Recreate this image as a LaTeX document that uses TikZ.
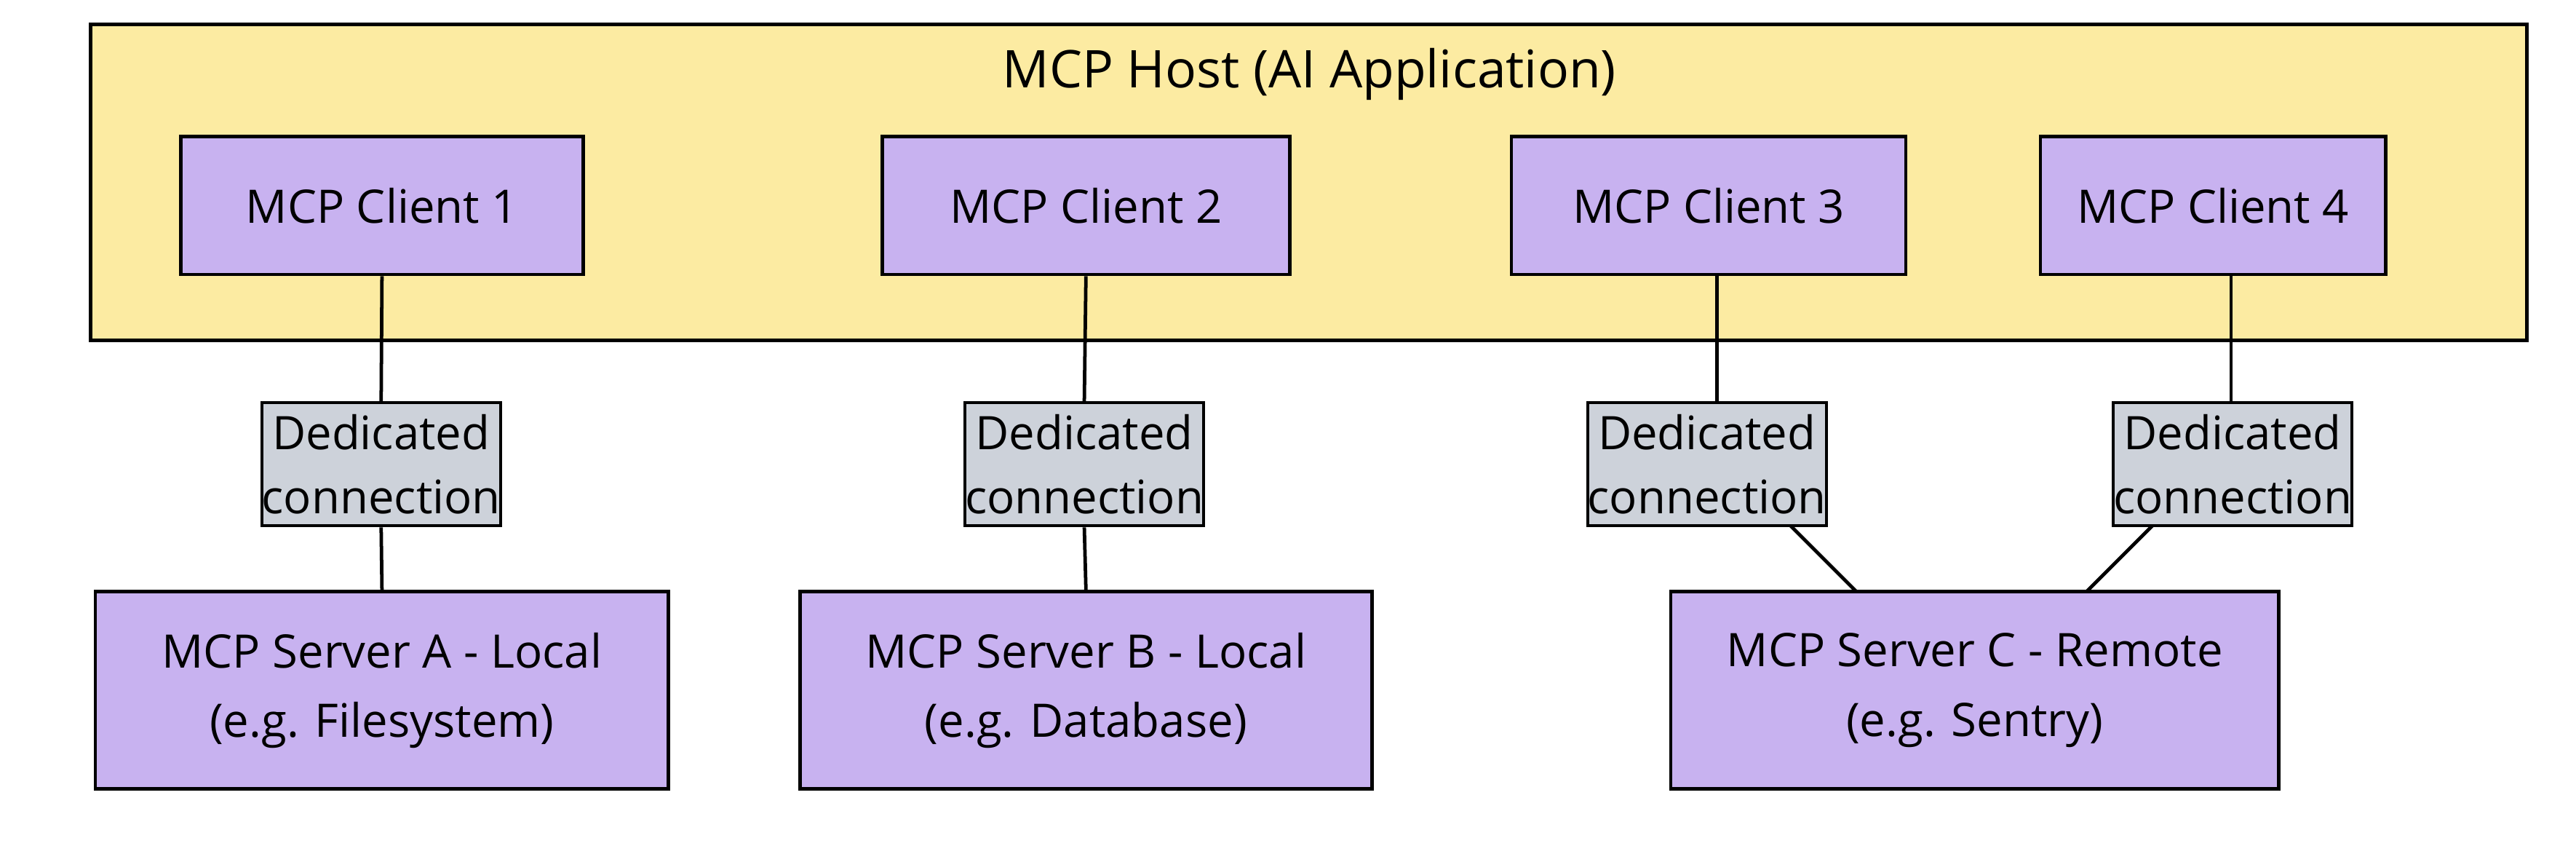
\documentclass[tikz,border=0pt]{standalone}
\usepackage{fontspec}
\setmainfont{Open Sans}
\begin{document}
\begin{tikzpicture}[x=0.02cm,y=-0.02cm,
 box/.style={draw=black,line width=1.2pt,align=center,inner sep=0pt},
 sz/.style 2 args={minimum width=#1*0.02cm,minimum height=#2*0.02cm},
 client/.style={box,fill=cl,font=\fontsize{16}{20}\selectfont},
 conn/.style={box,fill=cn,line width=1pt,font=\fontsize{16}{22}\selectfont},
 server/.style={box,fill=cl,font=\fontsize{16}{24}\selectfont},
 wire/.style={line width=1.2pt}]
\definecolor{hy}{HTML}{FCEBA2}
\definecolor{cl}{HTML}{C8B2F0}
\definecolor{cn}{HTML}{CDD2DA}
\useasboundingbox (0,0) rectangle (1568,524);
\node[box,fill=hy,sz={1483}{192}] (host) at (796.5,111) {};
\node[font=\fontsize{18}{22}\selectfont] (title) at (797,45) {MCP Host (AI Application)};
\node[client,sz={245}{84}] (c1) at (232.5,125) {MCP Client 1};
\node[client,sz={248}{84}] (c2) at (661,125) {MCP Client 2};
\node[client,sz={240}{84}] (c3) at (1040,125) {MCP Client 3};
\node[client,sz={210}{84}] (c4) at (1347,125) {MCP Client 4};
\node[conn,sz={132}{75}] (d1) at (232,282.5) {Dedicated\\connection};
\node[conn,sz={130}{75}] (d2) at (660,282.5) {Dedicated\\connection};
\node[conn,sz={132}{75}] (d3) at (1039,282.5) {Dedicated\\connection};
\node[conn,sz={128}{75}] (d4) at (1359,282.5) {Dedicated\\connection};
\node[server,sz={349}{120}] (sa) at (232.5,420) {MCP Server A - Local\\(e.g. Filesystem)};
\node[server,sz={348}{120}] (sb) at (661,420) {MCP Server B - Local\\(e.g. Database)};
\node[server,sz={370}{120}] (sc) at (1202,420) {MCP Server C - Remote\\(e.g. Sentry)};
\draw[wire] (c1.south) -- (d1.north);
\draw[wire] (d1.south) -- (sa.north);
\draw[wire] (c2.south) -- (d2.north);
\draw[wire] (d2.south) -- (sb.north);
\draw[wire] (c3.south -| 1045,0) -- (d3.north -| 1045,0);
\draw[wire] (c4.south -| 1358,0) -- (d4.north -| 1358,0);
\coordinate (p3) at (1090,320);
\coordinate (q3) at (1130,360);
\coordinate (p4) at (1310,320);
\coordinate (q4) at (1270,360);
\draw[wire] (p3) -- (q3);
\draw[wire] (p4) -- (q4);
\end{tikzpicture}
\end{document}
